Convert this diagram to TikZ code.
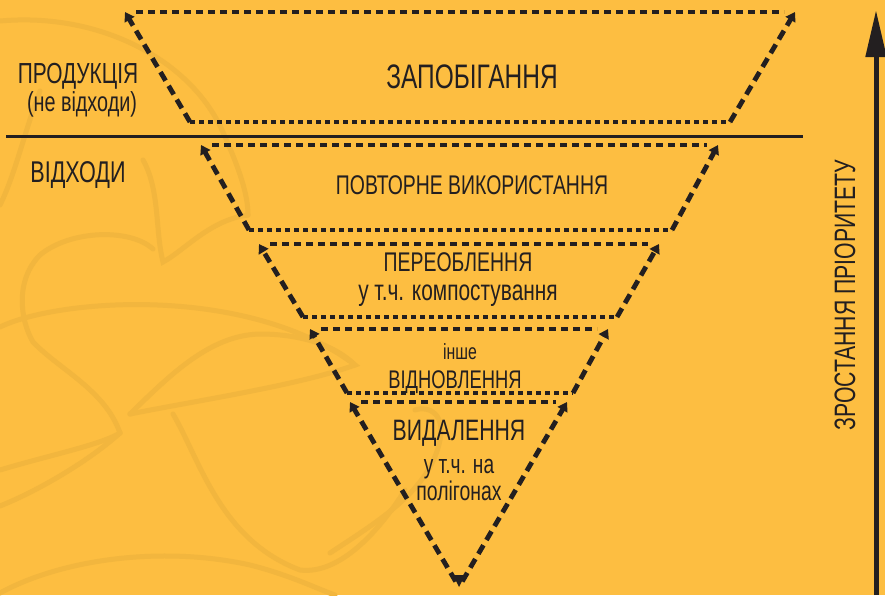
\documentclass[tikz,border=0pt]{standalone}
\usepackage{fontspec}
\usetikzlibrary{arrows.meta,calc}
\newfontfamily\cf[FakeStretch=0.72]{Liberation Sans}
\definecolor{bgc}{RGB}{253,190,65}
\definecolor{leafc}{RGB}{242,182,62}
\definecolor{ink}{RGB}{35,31,32}
\newcommand{\fsz}[1]{\fontsize{#1}{#1}\selectfont}
\tikzset{
  lbl/.style={text=ink, inner sep=0pt, anchor=base, font=\cf},
  topedge/.style={draw=ink, line width=4.8pt, dash pattern=on 7pt off 5pt},
  sideedge/.style={draw=ink, line width=4.8pt, dash pattern=on 10pt off 6pt, -{Triangle[length=9pt,width=11pt]}},
  botedge/.style={draw=ink, line width=4pt, dash pattern=on 5pt off 4pt},
  leaf/.style={draw=leafc, line width=5pt, line cap=round},
}
\begin{document}
\begin{tikzpicture}[x=1pt,y=-1pt]
\fill[bgc] (0,0) rectangle (885,595);
\useasboundingbox (0,0) rectangle (885,595);
% faint background leaves
\draw[leaf] (0,21) .. controls (100,12) and (190,60) .. (222,130) .. controls (240,170) and (248,195) .. (248,215);
\draw[leaf] (40,91) .. controls (25,130) and (15,175) .. (0,205);
\draw[leaf] (143,160) .. controls (160,190) and (155,230) .. (163,262) .. controls (185,250) and (210,220) .. (248,215);
\draw[leaf] (153,249) .. controls (130,228) and (70,230) .. (40,255) .. controls (15,280) and (20,320) .. (33,342) .. controls (60,370) and (105,390) .. (120,433);
\draw[leaf] (120,433) .. controls (90,460) and (40,490) .. (0,506);
\draw[leaf] (0,470) .. controls (50,455) and (100,445) .. (120,433);
\draw[leaf] (0,327) .. controls (60,298) and (250,285) .. (355,365) .. controls (300,385) and (200,400) .. (130,414);
\draw[leaf] (130,414) .. controls (170,375) and (210,335) .. (260,334) .. controls (300,334) and (335,345) .. (355,365);
\draw[leaf] (173,414) .. controls (200,460) and (220,540) .. (300,570) .. controls (340,575) and (380,530) .. (405,490);
\draw[leaf] (0,593) .. controls (60,560) and (160,545) .. (250,565) .. controls (290,575) and (320,590) .. (335,595);
\draw[leaf] (330,553) .. controls (380,520) and (430,490) .. (440,440) .. controls (445,415) and (430,405) .. (415,410);
% coordinates
\coordinate (t1l) at (125,12);  \coordinate (t1r) at (795,12);  \coordinate (b1l) at (190,122); \coordinate (b1r) at (730,122);
\coordinate (t2l) at (201,145); \coordinate (t2r) at (718,145); \coordinate (b2l) at (249,230); \coordinate (b2r) at (672,230);
\coordinate (t3l) at (259,244); \coordinate (t3r) at (659,244); \coordinate (b3l) at (303,317); \coordinate (b3r) at (617,317);
\coordinate (t4l) at (310,329); \coordinate (t4r) at (608,329); \coordinate (b4l) at (347,393); \coordinate (b4r) at (573,393);
\coordinate (t5l) at (350,402); \coordinate (t5r) at (567,402); \coordinate (tip) at (459,587);
% trapezoids
\foreach \i in {1,2,3,4}{
  \draw[topedge] ([xshift=11pt]t\i l) -- ([xshift=-11pt]t\i r);
  \draw[sideedge] (b\i l) -- (t\i l);
  \draw[sideedge] (b\i r) -- (t\i r);
  \draw[botedge] (b\i l) -- (b\i r);
}
\draw[topedge] ([xshift=11pt]t5l) -- ([xshift=-11pt]t5r);
\draw[sideedge] ($(tip)!0.03!(t5l)$) -- (t5l);
\draw[sideedge] ($(tip)!0.03!(t5r)$) -- (t5r);
\fill[ink] (tip) -- ++(-6,-12) -- ++(12,0) -- cycle;
% divider
\coordinate (hl) at (6,136); \coordinate (hr) at (803,136);
\draw[ink, line width=3pt] (hl) -- (hr);
% priority arrow
\coordinate (ab) at (876,595); \coordinate (at) at (876,10);
\draw[ink, line width=5pt, -{Triangle[length=47pt,width=20pt]}] (ab) -- (at);
% labels
\node[lbl, font=\cf\fsz{34}] (l1) at (472,88) {ЗАПОБІГАННЯ};
\node[lbl, font=\cf\fsz{27}] (l2) at (472,194) {ПОВТОРНЕ ВИКОРИСТАННЯ};
\node[lbl, font=\cf\fsz{27}] (l3) at (458,271) {ПЕРЕОБЛЕННЯ};
\node[lbl, font=\cf\fsz{29}] (l3b) at (458,300) {у т.ч. компостування};
\node[lbl, font=\cf\fsz{22}] (l4a) at (460,359) {інше};
\node[lbl, font=\cf\fsz{25.5}] (l4) at (455,388) {ВІДНОВЛЕННЯ};
\node[lbl, font=\cf\fsz{29.5}] (l5) at (459,440) {ВИДАЛЕННЯ};
\node[lbl, font=\cf\fsz{26.5}] (l5b) at (459,473) {у т.ч. на};
\node[lbl, font=\cf\fsz{27}] (l5c) at (459,500) {полігонах};
\node[lbl, font=\cf\fsz{29}] (p1) at (78,83) {ПРОДУКЦІЯ};
\node[lbl, font=\cf\fsz{27.5}] (p2) at (82,111) {(не відходи)};
\node[lbl, font=\cf\fsz{30}] (w1) at (78,182) {ВІДХОДИ};
\node[lbl, font=\cf\fsz{29.5}, rotate=90] (pr) at (855,295) {ЗРОСТАННЯ ПРІОРИТЕТУ};
\end{tikzpicture}
\end{document}
